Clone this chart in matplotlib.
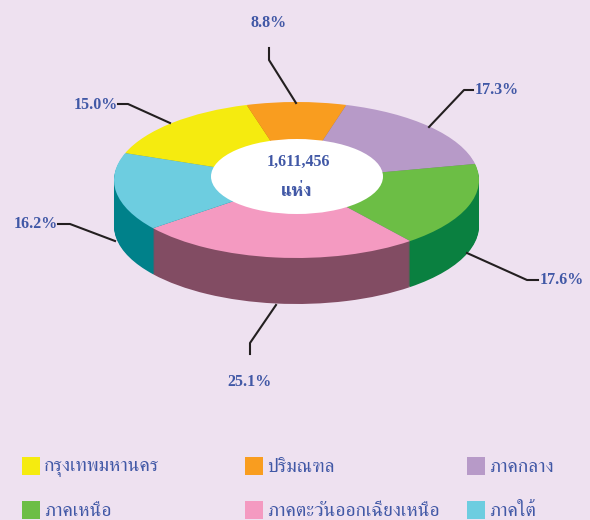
import matplotlib
matplotlib.use('Agg')

import matplotlib.pyplot as plt
from matplotlib.patches import Ellipse, Rectangle

regions = ["กรุงเทพมหานคร", "ปริมณฑล", "ภาคกลาง", "ภาคเหนือ", "ภาคตะวันออกเฉียงเหนือ", "ภาคใต้"]
shares = [15.0, 8.8, 17.3, 17.6, 25.1, 16.2]
top_colors = ["#F5EB0F", "#F99D1F", "#B79AC8", "#6CBE45", "#F49AC1", "#6DCDE0"]
side_colors = ["#A8A000", "#B06A10", "#7F6A90", "#0A8040", "#824C63", "#00818A"]
total_label = "1,611,456"
unit_label = "แห่ง"

BG = "#EEE1F0"
BLUE = "#4158A6"
LINE = "#231F20"
THAI_FONT = ["FreeSerif", "Liberation Serif"]

W, H = 590, 520
CX, CY, RX, RY, DEPTH = 296.5, 180, 182.5, 78, 46

fig = plt.figure(figsize=(W / 100, H / 100), dpi=100, facecolor=BG)

# pie axes: unit circle squashed into the ellipse, with room for the wall below
ax = fig.add_axes([(CX - RX) / W, 1 - (CY + RY + DEPTH) / H, 2 * RX / W, (2 * RY + DEPTH) / H])
for k in range(DEPTH, 0, -1):
    ax.pie(shares, colors=side_colors, startangle=159.84, counterclock=False,
           center=(0, -k / RY), wedgeprops={"linewidth": 0})
ax.pie(shares, colors=top_colors, startangle=159.84, counterclock=False,
       wedgeprops={"linewidth": 0})
ax.set_aspect("auto")
ax.set_xlim(-1, 1)
ax.set_ylim(-1 - DEPTH / RY, 1)

# overlay in pixel coordinates for hole, labels, leaders and legend
ov = fig.add_axes([0, 0, 1, 1], facecolor="none")
ov.set_xlim(0, W)
ov.set_ylim(H, 0)
ov.axis("off")

ov.add_patch(Ellipse((297, 176.5), 172, 75, facecolor="white", edgecolor="none"))
ov.text(298, 162, total_label, family="Liberation Serif", weight="bold", fontsize=11.5,
        color=BLUE, ha="center", va="center")
ov.text(297, 191, unit_label, family=THAI_FONT, weight="bold",
        fontsize=13, color=BLUE, ha="center", va="center")

label_pos = [(118, 105, "right"), (269, 23, "center"), (475, 90, "left"),
             (540, 280, "left"), (249, 382, "center"), (58, 224, "right")]
leaders = [[(170, 123), (128, 104), (118, 104)],
           [(296, 103), (269, 60), (269, 48)],
           [(429, 127), (464, 90), (473, 90)],
           [(467, 253), (527, 280), (538, 280)],
           [(276, 305), (250, 343), (250, 354)],
           [(115, 241), (70, 224), (58, 224)]]
for val, (x, y, ha), pts in zip(shares, label_pos, leaders):
    ov.text(x, y, f"{val:.1f}%", family="Liberation Serif", weight="bold", fontsize=11.5,
            color=BLUE, ha=ha, va="center")
    ov.plot([p[0] for p in pts], [p[1] for p in pts], color=LINE, lw=1.5)

legend_pos = [(22, 457), (245, 457), (467, 457), (22, 501), (245, 501), (467, 501)]
for name, col, (x, y) in zip(regions, top_colors, legend_pos):
    ov.add_patch(Rectangle((x, y), 18, 18, facecolor=col, edgecolor="none"))
    ov.text(x + 22, y + 8, name, family=THAI_FONT, fontsize=14,
            color=BLUE, ha="left", va="center_baseline")

fig.savefig("out.png", dpi=100, facecolor=BG)
